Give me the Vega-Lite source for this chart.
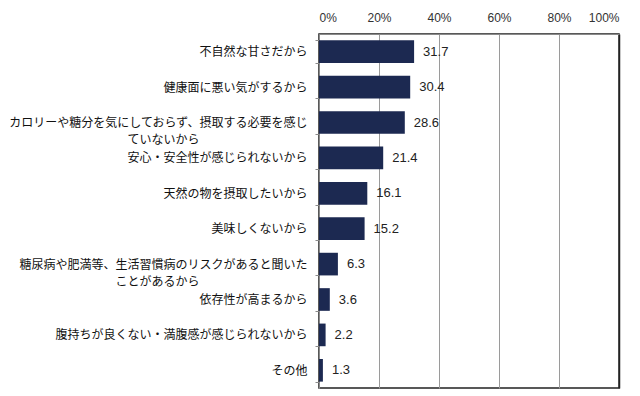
{
  "$schema": "https://vega.github.io/schema/vega-lite/v6.json",
  "autosize": "none",
  "width": 300,
  "height": 354,
  "padding": {"left": 319, "top": 34, "right": 21, "bottom": 8},
  "background": "white",
  "config": {
    "font": "Noto Sans CJK JP",
    "view": {"stroke": "#222222", "strokeWidth": 1.5}
  },
  "data": {
    "values": [
      {"reason": "不自然な甘さだから", "pct": 31.7},
      {"reason": "健康面に悪い気がするから", "pct": 30.4},
      {"reason": "カロリーや糖分を気にしておらず、摂取する必要を感じ|ていないから　　　　　　　　　\u200b", "pct": 28.6},
      {"reason": "安心・安全性が感じられないから", "pct": 21.4},
      {"reason": "天然の物を摂取したいから", "pct": 16.1},
      {"reason": "美味しくないから", "pct": 15.2},
      {"reason": "糖尿病や肥満等、生活習慣病のリスクがあると聞いた|ことがあるから　　　　　　　　　\u200b", "pct": 6.3},
      {"reason": "依存性が高まるから", "pct": 3.6},
      {"reason": "腹持ちが良くない・満腹感が感じられないから", "pct": 2.2},
      {"reason": "その他", "pct": 1.3}
    ]
  },
  "encoding": {
    "y": {
      "field": "reason",
      "type": "nominal",
      "sort": null,
      "scale": {"paddingInner": 0.36, "paddingOuter": 0.18},
      "axis": {
        "title": null,
        "labelExpr": "split(datum.label, '|')",
        "labelFontSize": 12,
        "labelColor": "#111111",
        "labelLineHeight": 17,
        "labelPadding": 8,
        "labelLimit": 330,
        "tickBand": "extent",
        "tickSize": 4,
        "tickColor": "#8a8a8a",
        "domainColor": "#8a8a8a",
        "grid": false
      }
    },
    "x": {
      "field": "pct",
      "type": "quantitative",
      "scale": {"domain": [0, 100], "nice": false},
      "axis": {
        "orient": "top",
        "title": null,
        "values": [0, 20, 40, 60, 80, 100],
        "labelExpr": "datum.value + '%'",
        "labelFontSize": 12,
        "labelColor": "#333333",
        "labelPadding": 10,
        "labelFont": "Liberation Sans",
        "ticks": false,
        "domainColor": "#8a8a8a",
        "grid": true,
        "gridColor": {"condition": {"test": "datum.value === 100", "value": "#222222"}, "value": "#9a9a9a"},
        "gridWidth": {"condition": {"test": "datum.value === 100", "value": 1.5}, "value": 1}
      }
    }
  },
  "layer": [
    {"mark": {"type": "bar", "color": "#1c2951"}},
    {
      "mark": {"type": "text", "align": "left", "dx": 9, "fontSize": 13, "color": "#222222", "font": "Liberation Sans"},
      "encoding": {"text": {"field": "pct", "type": "quantitative", "format": ".1f"}}
    }
  ]
}
